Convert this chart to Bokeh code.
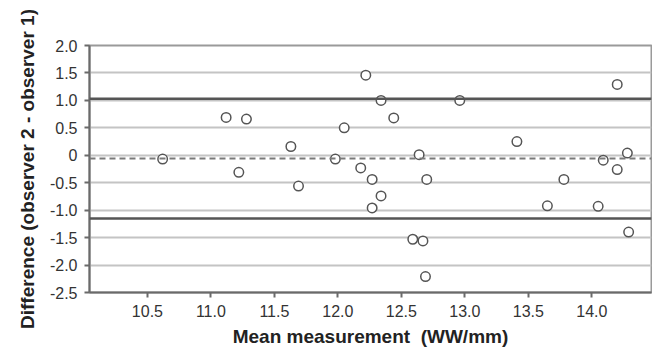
from bokeh.plotting import figure
from bokeh.models import FixedTicker, Range1d, Span, NumeralTickFormatter
from bokeh.embed import file_html
from bokeh.resources import INLINE

# Data (Bland-Altman plot)
mean_measurement = [10.62, 11.12, 11.28, 11.22, 11.63, 11.69, 11.98, 12.05, 12.18, 12.22,
                    12.34, 12.44, 12.27, 12.34, 12.27, 12.64, 12.70, 12.59, 12.67, 12.69,
                    12.96, 13.41, 13.78, 13.65, 14.05, 14.09, 14.20, 14.20, 14.28, 14.29]
difference = [-0.07, 0.69, 0.66, -0.31, 0.16, -0.56, -0.07, 0.50, -0.23, 1.46,
              1.00, 0.68, -0.44, -0.74, -0.96, 0.01, -0.44, -1.53, -1.56, -2.21,
              1.00, 0.25, -0.44, -0.92, -0.93, -0.09, 1.29, -0.26, 0.04, -1.40]
mean_diff = -0.06
upper_limit = 1.03
lower_limit = -1.15
x_ticks = [10.5, 11.0, 11.5, 12.0, 12.5, 13.0, 13.5, 14.0]
y_ticks = [-2.5, -2.0, -1.5, -1.0, -0.5, 0.0, 0.5, 1.0, 1.5, 2.0]

p = figure(width=652, height=350, output_backend="svg", toolbar_location=None,
           x_range=Range1d(10.044, 14.47), y_range=Range1d(-2.5, 2.0),
           min_border_left=89, min_border_right=1, min_border_top=45, min_border_bottom=58)

p.background_fill_color = "white"
p.border_fill_color = "white"
p.outline_line_color = "#9a9a9a"
p.outline_line_width = 2

# grid
p.xgrid.visible = False
p.ygrid.ticker = FixedTicker(ticks=y_ticks)
p.ygrid.grid_line_color = "#c4c4c4"
p.ygrid.grid_line_width = 2

# axes
font = "Liberation Sans"
p.xaxis.ticker = FixedTicker(ticks=x_ticks)
p.yaxis.ticker = FixedTicker(ticks=y_ticks)
p.xaxis.formatter = NumeralTickFormatter(format="0.0")
p.yaxis.formatter = NumeralTickFormatter(format="0.0")
p.yaxis.major_label_overrides = {0: "0"}
for ax in (p.xaxis, p.yaxis):
    ax.axis_line_color = "#6a6a6a"
    ax.axis_line_width = 2
    ax.major_tick_line_color = "#6a6a6a"
    ax.major_tick_line_width = 2
    ax.major_tick_out = 5
    ax.major_tick_in = 0
    ax.minor_tick_line_color = None
    ax.major_label_text_font = font
    ax.major_label_text_font_size = "16px"
    ax.major_label_text_color = "#333333"
    ax.axis_label_text_font = font
    ax.axis_label_text_font_style = "bold"
    ax.axis_label_text_color = "#222222"
    ax.axis_label_text_font_size = "19px"

p.xaxis.axis_label = "Mean measurement\u00a0 (WW/mm)"
p.yaxis.axis_label = "Difference (observer 2 - observer 1)"
p.xaxis.major_label_standoff = 7
p.yaxis.major_label_standoff = 7
p.xaxis.axis_label_standoff = 6
p.yaxis.axis_label_standoff = 9

# limits of agreement & mean
p.add_layout(Span(location=upper_limit, dimension="width", line_color="#555555", line_width=2.5))
p.add_layout(Span(location=lower_limit, dimension="width", line_color="#555555", line_width=2.5))
p.add_layout(Span(location=mean_diff, dimension="width", line_color="#7a7a7a", line_width=2,
                  line_dash="6 4"))

p.scatter(mean_measurement, difference, size=9.5, marker="circle",
          fill_color="white", line_color="#555555", line_width=1.5)

open("out.html", "w").write(file_html(p, INLINE))
